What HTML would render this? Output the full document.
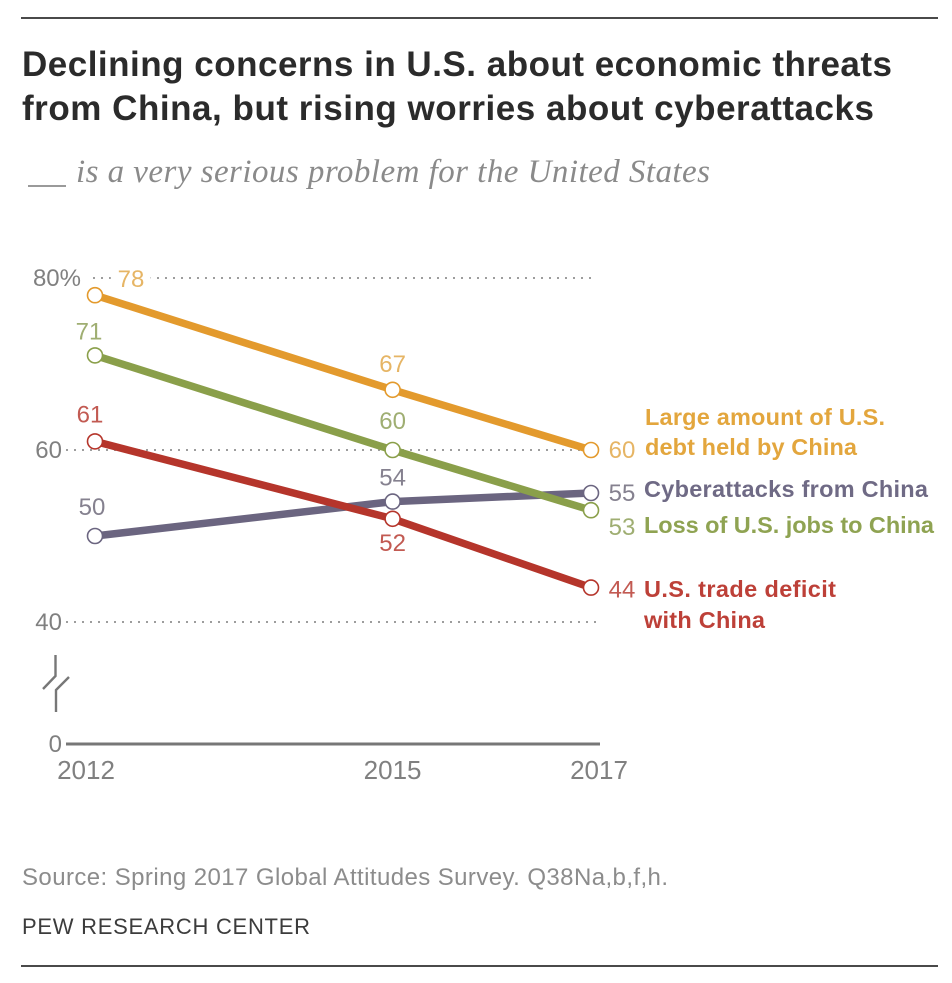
<!DOCTYPE html>
<html lang="en">
<head>
<meta charset="utf-8">
<title>Declining concerns in U.S. about economic threats from China</title>
<style>
html,body{margin:0;padding:0;background:#fff;}
body{width:952px;height:983px;overflow:hidden;}
svg{display:block;}
text{font-family:"Liberation Sans",sans-serif;}
.serif{font-family:"Liberation Serif",serif;}
</style>
</head>
<body>
<svg id="chart" width="952" height="983" viewBox="0 0 952 983" xmlns="http://www.w3.org/2000/svg">
  <rect width="952" height="983" fill="#fff"></rect>
  <rect x="21" y="17" width="917" height="2" fill="#4a4a4a"></rect>
  <text x="22" y="76" font-size="35" font-weight="700" fill="#2b2b2b" textLength="870" lengthAdjust="spacing">Declining concerns in U.S. about economic threats</text>
  <text x="22" y="120" font-size="35" font-weight="700" fill="#2b2b2b" textLength="852" lengthAdjust="spacing">from China, but rising worries about cyberattacks</text>
  <rect x="28" y="185" width="38" height="2" fill="#9a9a9a"></rect>
  <text class="serif" x="76" y="182" font-size="33" font-style="italic" fill="#8a8a8a" textLength="634" lengthAdjust="spacing">is a very serious problem for the United States</text>

  <g id="grid"></g>
  <g id="axes"></g>
  <g id="series"></g>

  <g fill="none" stroke="#777" stroke-width="2.4">
    <path d="M55.5 655V676L43 689"></path>
    <path d="M69 677L56 690V712"></path>
  </g>

  <text x="645" y="425" font-size="23.5" font-weight="700" fill="#e3a63d" textLength="240" lengthAdjust="spacing">Large amount of U.S.</text>
  <text x="645" y="455" font-size="23.5" font-weight="700" fill="#e3a63d" textLength="212" lengthAdjust="spacing">debt held by China</text>
  <text x="644" y="497" font-size="23.5" font-weight="700" fill="#6f6a85" textLength="284" lengthAdjust="spacing">Cyberattacks from China</text>
  <text x="644" y="533" font-size="23.5" font-weight="700" fill="#8fa352" textLength="290" lengthAdjust="spacing">Loss of U.S. jobs to China</text>
  <text x="644" y="597" font-size="23.5" font-weight="700" fill="#bd4038" textLength="192" lengthAdjust="spacing">U.S. trade deficit</text>
  <text x="644" y="628" font-size="23.5" font-weight="700" fill="#bd4038" textLength="121" lengthAdjust="spacing">with China</text>

  <text x="22" y="885" font-size="24" fill="#8c8c8c" textLength="646" lengthAdjust="spacing">Source: Spring 2017 Global Attitudes Survey. Q38Na,b,f,h.</text>
  <text x="22" y="934" font-size="22" fill="#3c3c3c" textLength="288" lengthAdjust="spacing">PEW RESEARCH CENTER</text>
  <rect x="21" y="965" width="917" height="2" fill="#4a4a4a"></rect>
</svg>
<script>
const years = [2012, 2015, 2017];
const yTicks = [40, 60, 80];
const debtValues = [78, 67, 60];
const jobsValues = [71, 60, 53];
const tradeValues = [61, 52, 44];
const cyberValues = [50, 54, 55];

const NS = 'http://www.w3.org/2000/svg';
const xScale = function (year) { return 95 + (year - 2012) * (591 - 95) / (2017 - 2012); };
const yScale = function (value) { return 622 - (value - 40) * 8.6; };
const zeroY = 744;

function make(tag, attrs, parent, content) {
  const el = document.createElementNS(NS, tag);
  Object.keys(attrs).forEach(function (k) { el.setAttribute(k, attrs[k]); });
  if (content !== undefined) el.textContent = content;
  parent.appendChild(el);
  return el;
}

const grid = document.getElementById('grid');
const axes = document.getElementById('axes');
const seriesLayer = document.getElementById('series');

yTicks.forEach(function (t) {
  const line = make('line', { x1: t === 80 ? 93 : 66, x2: 597, y1: yScale(t), y2: yScale(t), stroke: '#9d9d9d', 'stroke-width': 2, 'stroke-dasharray': '2 6' }, grid);
  
  
  const label = make('text', { x: t === 80 ? 81 : 62, y: yScale(t) + 8, 'font-size': 24, fill: '#808080', 'text-anchor': 'end' }, axes, t === 80 ? t + '%' : String(t));
  
  
});

const zeroLine = make('line', { x1: 66, x2: 600, y1: zeroY, y2: zeroY, stroke: '#777', 'stroke-width': 3 }, axes);


const zeroLabel = make('text', { x: 62, y: zeroY + 8, 'font-size': 24, fill: '#808080', 'text-anchor': 'end' }, axes, '0');



const yearOffsets = [-9, 0, 8];
years.forEach(function (yr, i) {
  const label = make('text', { x: xScale(yr) + yearOffsets[i], y: 779, 'font-size': 26, fill: '#808080', 'text-anchor': 'middle' }, axes, String(yr));
  
  
});

const seriesList = [
  { key: 'cyber', values: cyberValues, color: '#6b6580', text: '#85818f', dx: [-3, 0, 31], dy: [-21, -16, 8] },
  { key: 'trade', values: tradeValues, color: '#b5352b', text: '#c25a52', dx: [-5, 0, 31], dy: [-19, 32, 10] },
  { key: 'jobs', values: jobsValues, color: '#8a9f4a', text: '#9fae72', dx: [-6, 0, 31], dy: [-16, -21, 25] },
  { key: 'debt', values: debtValues, color: '#e39a2d', text: '#e6b565', dx: [36, 0, 31], dy: [-8, -18, 8] }
];

seriesList.forEach(function (s) {
  const pts = s.values.map(function (v, i) { return xScale(years[i]) + ',' + yScale(v); }).join(' ');
  const line = make('polyline', { points: pts, fill: 'none', stroke: s.color, 'stroke-width': 7.5, 'stroke-linejoin': 'round' }, seriesLayer);
  
  
});

seriesList.forEach(function (s) {
  s.values.forEach(function (v, i) {
    const dot = make('circle', { cx: xScale(years[i]), cy: yScale(v), r: 7.5, fill: '#fff', stroke: s.color, 'stroke-width': 1.6 }, seriesLayer);
    
    
    const attrs = { x: xScale(years[i]) + s.dx[i], y: yScale(v) + s.dy[i], 'font-size': 24, fill: s.text, 'text-anchor': 'middle' };
    if (s.key === 'debt' && i === 0) {
      attrs.stroke = '#fff';
      attrs['stroke-width'] = 16;
      attrs['paint-order'] = 'stroke';
    }
    const label = make('text', attrs, seriesLayer, String(v));
    
    
  });
});
</script>
</body>
</html>
